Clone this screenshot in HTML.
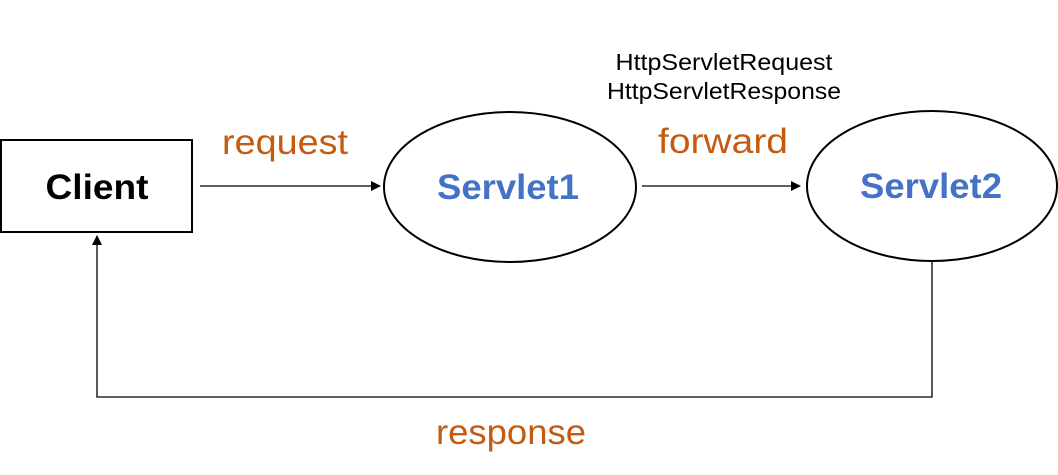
<!DOCTYPE html>
<html><head><meta charset="utf-8"><style>
html,body{margin:0;padding:0;background:#fff;width:1058px;height:475px;overflow:hidden}
text{font-family:"Liberation Sans",sans-serif}
</style></head><body>
<svg width="1058" height="475" viewBox="0 0 1058 475" xmlns="http://www.w3.org/2000/svg">
<defs><marker id="a" markerWidth="10" markerHeight="10" refX="9" refY="5" orient="auto" markerUnits="userSpaceOnUse"><path d="M0,0 L10,5 L0,10 z" fill="#000"/></marker></defs>
<rect x="1" y="140" width="191" height="92" fill="#fff" stroke="#000" stroke-width="2"/>
<text x="97" y="199" font-size="35" font-weight="bold" text-anchor="middle" textLength="103" lengthAdjust="spacingAndGlyphs">Client</text>
<line x1="200" y1="186" x2="380" y2="186" stroke="#000" stroke-width="1.3" marker-end="url(#a)"/>
<text x="285" y="154" font-size="35" fill="#C55A11" text-anchor="middle" textLength="126" lengthAdjust="spacingAndGlyphs">request</text>
<ellipse cx="510" cy="187" rx="126" ry="75" fill="#fff" stroke="#000" stroke-width="2"/>
<text x="508" y="199" font-size="35" font-weight="bold" fill="#4472C4" text-anchor="middle" textLength="142" lengthAdjust="spacingAndGlyphs">Servlet1</text>
<line x1="642" y1="186" x2="800" y2="186" stroke="#000" stroke-width="1.3" marker-end="url(#a)"/>
<text x="723" y="153" font-size="35" fill="#C55A11" text-anchor="middle" textLength="130" lengthAdjust="spacingAndGlyphs">forward</text>
<text x="724" y="70" font-size="23" text-anchor="middle" textLength="217" lengthAdjust="spacingAndGlyphs">HttpServletRequest</text>
<text x="724" y="99" font-size="23" text-anchor="middle" textLength="234" lengthAdjust="spacingAndGlyphs">HttpServletResponse</text>
<ellipse cx="932" cy="186" rx="125" ry="75" fill="#fff" stroke="#000" stroke-width="2"/>
<text x="931" y="198" font-size="35" font-weight="bold" fill="#4472C4" text-anchor="middle" textLength="142" lengthAdjust="spacingAndGlyphs">Servlet2</text>
<polyline points="932,262 932,397 97,397 97,236" fill="none" stroke="#000" stroke-width="1.3" marker-end="url(#a)"/>
<text x="511" y="444" font-size="35" fill="#C55A11" text-anchor="middle" textLength="150" lengthAdjust="spacingAndGlyphs">response</text>
</svg>
</body></html>
